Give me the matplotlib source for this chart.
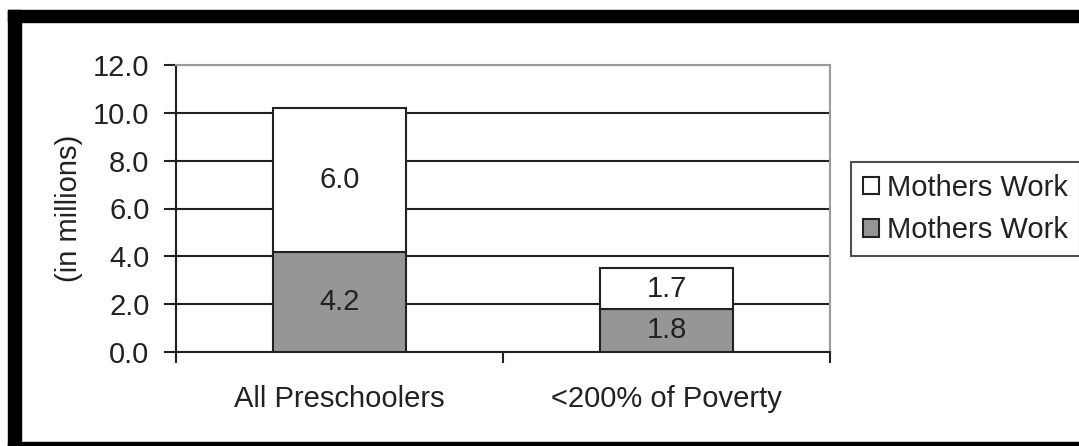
import numpy as np
import matplotlib.pyplot as plt
from matplotlib.patches import Rectangle

plt.rcParams['font.family'] = ['Liberation Sans', 'DejaVu Sans']

# =========================
# DATA
# =========================
categories = ["All Preschoolers", "<200% of Poverty"]
bottom_vals = [4.2, 1.8]   # grey series
top_vals = [6.0, 1.7]      # white series
legend_labels = ["Mothers Work", "Mothers Work"]
yticks = [0, 2, 4, 6, 8, 10, 12]

# =========================
# FIGURE
# =========================
W, H = 1079, 446
fig = plt.figure(figsize=(W / 100, H / 100), dpi=100)
fig.patch.set_facecolor("white")

ax = fig.add_axes([176 / W, 1 - 352 / H, (830 - 176) / W, (352 - 65) / H])

x = np.arange(len(categories))
bw = 0.407
txt = "#222222"
fs = 21

b1 = ax.bar(x, bottom_vals, bw, color="#969696", edgecolor="#222222", linewidth=1.5, zorder=3)
b2 = ax.bar(x, top_vals, bw, bottom=bottom_vals, color="white", edgecolor="#222222", linewidth=1.5, zorder=3)

for i in range(len(x)):
    ax.text(x[i], bottom_vals[i] / 2, f"{bottom_vals[i]:.1f}", ha="center", va="center",
            fontsize=fs, color=txt, zorder=4)
    ax.text(x[i], bottom_vals[i] + top_vals[i] / 2, f"{top_vals[i]:.1f}", ha="center", va="center",
            fontsize=fs, color=txt, zorder=4)

ax.set_xlim(-0.5, len(categories) - 0.5)
ax.set_ylim(0, 12)
ax.set_yticks(yticks)
ax.set_yticklabels([f"{v:.1f}" for v in yticks], fontsize=fs, color=txt)
ax.yaxis.grid(True, color="#222222", linewidth=1.5, zorder=1)
ax.set_axisbelow(True)

# category labels between boundary ticks
ax.set_xticks(np.arange(len(categories) + 1) - 0.5)
ax.set_xticklabels([])
ax.set_xticks(x, minor=True)
ax.set_xticklabels(categories, minor=True, fontsize=fs, color=txt)
ax.tick_params(axis="x", which="minor", length=0, pad=24)
ax.tick_params(axis="x", which="major", length=8, width=1.5, color="#222222", direction="out")
ax.tick_params(axis="y", length=9, width=1.5, color="#222222", direction="out", pad=10)

ax.set_ylabel("(in millions)", fontsize=fs, color=txt, labelpad=7)

for s in ["left", "bottom"]:
    ax.spines[s].set_color("#222222")
    ax.spines[s].set_linewidth(1.5)
for s in ["top", "right"]:
    ax.spines[s].set_color("#9a9a9a")
    ax.spines[s].set_linewidth(1.5)

leg = ax.legend([b2, b1], legend_labels, loc="upper left",
                bbox_to_anchor=(851 / W, 1 - 162 / H), bbox_transform=fig.transFigure,
                fontsize=fs, frameon=True, fancybox=False, edgecolor="#222222",
                handlelength=0.55, handleheight=0.55, handletextpad=0.3,
                borderpad=0.4, labelspacing=0.5, borderaxespad=0)
leg.get_frame().set_linewidth(1.5)
for t in leg.get_texts():
    t.set_color(txt)

# outer black frame (left, top, bottom)
fig.patches.append(Rectangle((8 / W, 0), 13 / W, 1 - 10 / H, transform=fig.transFigure,
                             color="black", zorder=10))
fig.patches.append(Rectangle((8 / W, 1 - 22 / H), 1, 12 / H, transform=fig.transFigure,
                             color="black", zorder=10))
fig.patches.append(Rectangle((8 / W, 0), 1, 4 / H, transform=fig.transFigure,
                             color="black", zorder=10))

fig.savefig("out.png", dpi=100)
